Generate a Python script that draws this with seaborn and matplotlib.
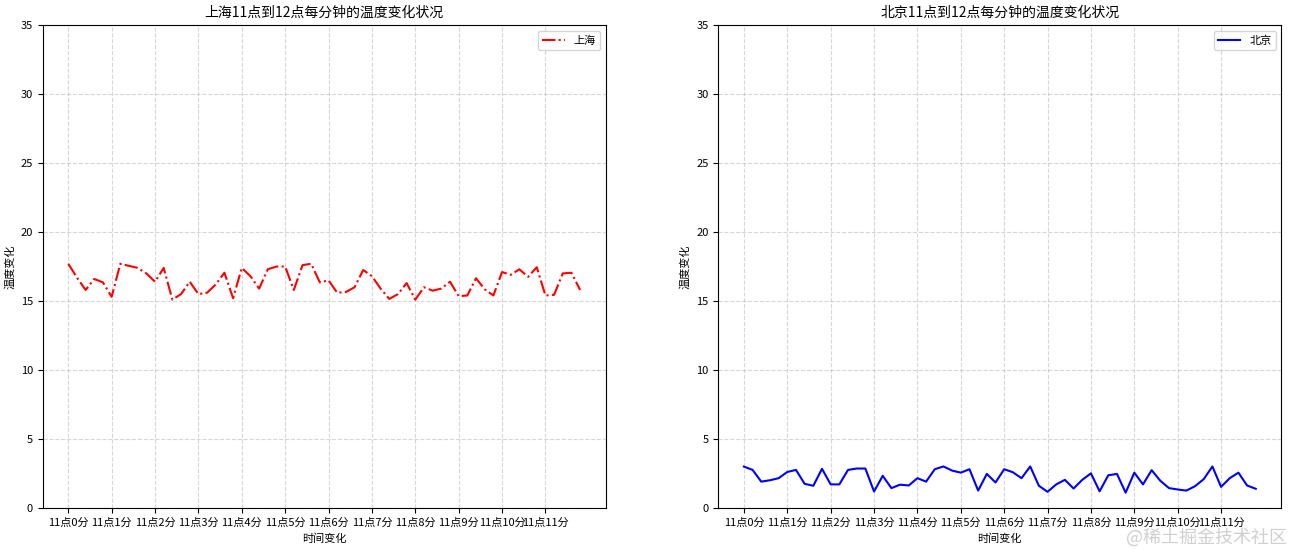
import pandas as pd
import seaborn as sns
import matplotlib.pyplot as plt

plt.rcParams['font.family'] = ['Noto Sans CJK SC', 'DejaVu Sans']
plt.rcParams['axes.unicode_minus'] = False

# 数据: 每分钟温度
minutes = list(range(60))
shanghai = [17.7, 16.7, 15.8, 16.6, 16.35, 15.3, 17.7, 17.55, 17.4, 17.0,
            16.4, 17.4, 15.1, 15.5, 16.4, 15.5, 15.6, 16.2, 17.05, 15.2,
            17.4, 16.8, 15.9, 17.3, 17.5, 17.5, 15.8, 17.6, 17.7, 16.35,
            16.5, 15.6, 15.65, 16.0, 17.25, 16.8, 15.9, 15.15, 15.5, 16.3,
            15.1, 16.0, 15.75, 15.9, 16.4, 15.35, 15.4, 16.65, 15.85, 15.4,
            17.1, 16.9, 17.3, 16.75, 17.45, 15.4, 15.45, 17.0, 17.05, 15.8]
beijing = [2.99, 2.75, 1.9, 2.0, 2.15, 2.6, 2.75, 1.74, 1.6, 2.83,
           1.7, 1.7, 2.75, 2.85, 2.85, 1.18, 2.32, 1.43, 1.68, 1.62,
           2.15, 1.9, 2.8, 3.0, 2.7, 2.55, 2.8, 1.25, 2.46, 1.84,
           2.8, 2.58, 2.15, 3.0, 1.6, 1.16, 1.7, 2.03, 1.4, 2.03,
           2.5, 1.2, 2.36, 2.46, 1.1, 2.55, 1.7, 2.73, 1.96, 1.43,
           1.33, 1.25, 1.57, 2.08, 3.0, 1.52, 2.15, 2.55, 1.62, 1.38]
tick_pos = list(range(0, 60, 5))
tick_labels = ["11点{}分".format(i) for i in range(12)]

df = pd.DataFrame({'minute': minutes, '上海': shanghai, '北京': beijing})

fig, axes = plt.subplots(1, 2, figsize=(12.93, 5.49), dpi=100)
fig.subplots_adjust(left=0.033, right=0.991, bottom=0.075, top=0.954, wspace=0.2)

configs = [('上海', 'r', '-.'), ('北京', 'b', '-')]
for ax, (city, color, ls) in zip(axes, configs):
    sns.lineplot(data=df, x='minute', y=city, ax=ax, color=color,
                 linestyle=ls, label=city, linewidth=1.5)
    ax.set_xticks(tick_pos)
    ax.set_xticklabels(tick_labels, fontsize=8)
    ax.set_yticks(range(0, 40, 5))
    ax.set_ylim(0, 35)
    ax.tick_params(axis='y', labelsize=8)
    ax.grid(True, linestyle='--', alpha=0.5)
    ax.set_xlabel('时间变化', fontsize=8)
    ax.set_ylabel('温度变化', fontsize=8)
    ax.set_title('{}11点到12点每分钟的温度变化状况'.format(city), fontsize=10)
    ax.legend(loc='upper right', fontsize=8)

fig.text(0.995, 0.005, '@稀土掘金技术社区', ha='right', va='bottom',
         fontsize=13, color='#d0d0d0')

plt.savefig('out.png', dpi=100)
